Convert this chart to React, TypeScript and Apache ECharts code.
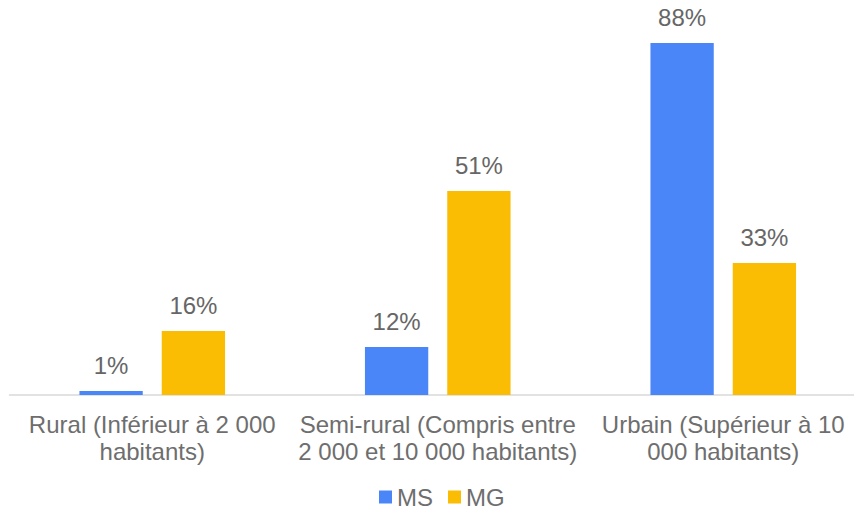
import React, { useEffect, useRef } from "react";
import * as echarts from "echarts";

const categories = [
  "Rural (Inférieur à 2 000 habitants)",
  "Semi-rural (Compris entre 2 000 et 10 000 habitants)",
  "Urbain (Supérieur à 10 000 habitants)",
];
const categoryLines = [
  "Rural (Inférieur à 2 000\nhabitants)",
  "Semi-rural (Compris entre\n2 000 et 10 000 habitants)",
  "Urbain (Supérieur à 10\n000 habitants)",
];
const msValues = [1, 12, 88];
const mgValues = [16, 51, 33];

const FONT = "'Liberation Sans', Arial, sans-serif";
const GRAY = "#6e6e6e";

export default function App() {
  const ref = useRef<HTMLDivElement>(null);
  useEffect(() => {
    document.body.style.margin = "0";
    const chart = echarts.init(ref.current!, null, { renderer: "svg" });
    const labelCfg = {
      show: true,
      position: "top",
      distance: 14,
      formatter: (p: any) => p.value + "%",
      color: "#666666",
      fontSize: 24,
      fontFamily: FONT,
    };
    chart.setOption({
      animation: false,
      textStyle: { fontFamily: FONT },
      grid: { left: 9.5, right: 0, top: 35, bottom: 120, containLabel: false },
      legend: {
        data: ["MS", "MG"],
        bottom: 1,
        left: 374,
        icon: "rect",
        itemWidth: 13,
        itemHeight: 13,
        itemGap: 15,
        textStyle: { color: GRAY, fontSize: 24, fontFamily: FONT },
      },
      xAxis: {
        type: "category",
        data: categories,
        axisLine: { lineStyle: { color: "#d9d9d9", width: 1.5 } },
        axisTick: { show: false },
        axisLabel: {
          color: GRAY,
          fontSize: 24,
          fontFamily: FONT,
          lineHeight: 27,
          margin: 16,
          interval: 0,
          formatter: (v: string) => categoryLines[categories.indexOf(v)] ?? v,
        },
      },
      yAxis: {
        type: "value",
        min: 0,
        max: 90,
        show: false,
        splitLine: { show: false },
      },
      series: [
        {
          name: "MS",
          type: "bar",
          data: msValues,
          itemStyle: { color: "#4A86F8" },
          barGap: "30%",
          barCategoryGap: "49%",
          label: labelCfg,
        },
        {
          name: "MG",
          type: "bar",
          data: mgValues,
          itemStyle: { color: "#FBBC04" },
          barGap: "30%",
          barCategoryGap: "49%",
          label: labelCfg,
        },
      ],
    });
    return () => chart.dispose();
  }, []);
  return (
    <div style={{ width: 854, height: 515, overflow: "hidden" }}>
      <div ref={ref} style={{ width: 866, height: 515 }} />
    </div>
  );
}
